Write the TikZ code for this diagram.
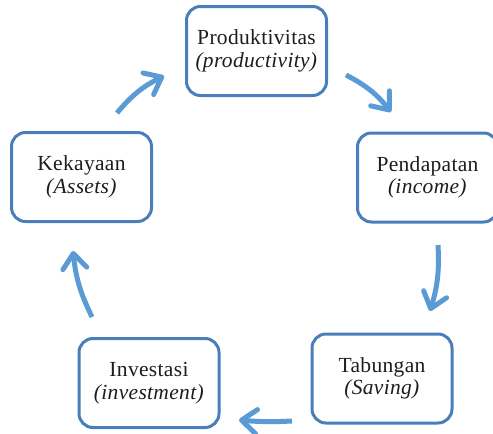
\documentclass[tikz,border=0pt]{standalone}
\usepackage{fontspec}
\setmainfont{Liberation Serif}[LetterSpace=1.5]
\usetikzlibrary{arrows.meta}
\definecolor{boxblue}{RGB}{74,126,187}
\definecolor{arrblue}{RGB}{91,155,213}
\definecolor{txtcol}{RGB}{30,28,28}
\begin{document}
\begin{tikzpicture}[x=1pt,y=-1pt,
  cyclebox/.style={draw=boxblue, line width=3pt, rounded corners=14pt,
    minimum width=140pt, minimum height=89pt, align=center,
    font=\fontsize{21.5}{22.5}\selectfont, text=txtcol, inner sep=0pt},
  cyclearrow/.style={draw=arrblue, line width=5pt,
    -{Straight Barb[length=15pt,width=24pt,round]}}]
\useasboundingbox (0,0) rectangle (493,434);
\node[cyclebox] (prod) at (256.5,51) {Produktivitas\\\textit{(productivity)}};
\node[cyclebox] (pend) at (427.5,177.5) {Pendapatan\\\textit{(income)}};
\node[cyclebox] (tab) at (382,378.5) {Tabungan\\\textit{(Saving)}};
\node[cyclebox] (inv) at (149,383) {Investasi\\\textit{(investment)}};
\node[cyclebox] (kek) at (81.5,177) {Kekayaan\\\textit{(Assets)}};
\coordinate (a1s) at (117,113);
\coordinate (a1e) at (164,76);
\coordinate (a2s) at (346,75);
\coordinate (a2e) at (391,112);
\coordinate (a3s) at (438,245);
\coordinate (a3e) at (430,311);
\coordinate (a4s) at (292,421);
\coordinate (a4e) at (239,420);
\coordinate (a5s) at (92,317);
\coordinate (a5e) at (73,251);
\draw[cyclearrow] (a1s) to[bend left=12] (a1e);
\draw[cyclearrow] (a2s) to[bend left=12] (a2e);
\draw[cyclearrow] (a3s) to[bend left=10] (a3e);
\draw[cyclearrow] (a4s) to[bend left=4] (a4e);
\draw[cyclearrow] (a5s) to[bend left=10] (a5e);
\end{tikzpicture}
\end{document}
